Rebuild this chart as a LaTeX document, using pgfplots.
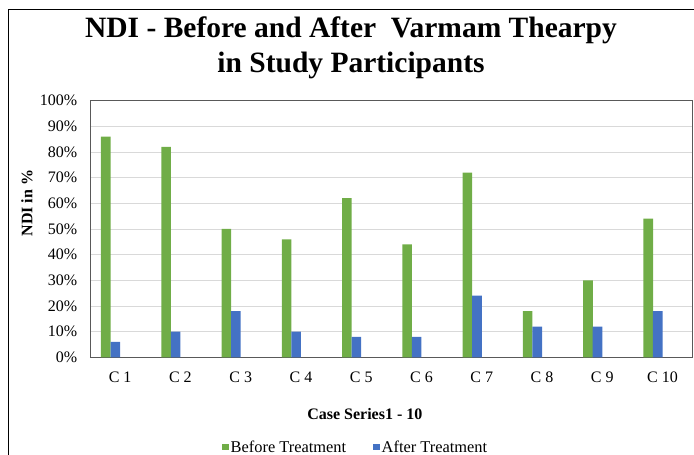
\documentclass[border=0pt]{standalone}
\usepackage{fontspec}
\setmainfont{Liberation Serif}
\usepackage{pgfplots}
\pgfplotsset{compat=1.18}
\definecolor{cgreen}{HTML}{70AD47}
\definecolor{cblue}{HTML}{4472C4}
\definecolor{cgrid}{HTML}{D9D9D9}
\definecolor{cframe}{HTML}{595959}
\begin{document}
\begin{tikzpicture}[x=1pt,y=1pt]
\useasboundingbox (0,0) rectangle (694,455);
\draw[black, line width=1pt] (8,-5) -- (8,445) -- (700,445);
\node[font=\fontsize{29.5}{34}\selectfont\bfseries, anchor=base, inner sep=0pt] at (351,417) {NDI - Before and After\ \ Varmam Thearpy};
\node[font=\fontsize{29.5}{34}\selectfont\bfseries, anchor=base, inner sep=0pt] at (351,382) {in Study Participants};
\begin{axis}[
  at={(90pt,97.7pt)}, anchor=south west,
  scale only axis, width=602.7pt, height=256.6pt,
  font=\fontsize{16}{19}\selectfont,
  xmin=-0.5, xmax=9.5, ymin=0, ymax=100,
  ytick={0,10,...,100},
  yticklabels={0\%,10\%,20\%,30\%,40\%,50\%,60\%,70\%,80\%,90\%,100\%},
  xtick={0,...,9},
  xticklabels={C 1,C 2,C 3,C 4,C 5,C 6,C 7,C 8,C 9,C 10},
  major tick length=0pt,
  ymajorgrids, grid style={cgrid, line width=0.8pt},
  axis line style={cframe, line width=0.8pt},
  yticklabel style={inner sep=0pt, anchor=east, xshift=-12.7pt},
  xticklabel style={inner sep=0pt, anchor=base, yshift=-25.7pt},
  xlabel={\bfseries Case Series1 - 10},
  xlabel style={at={(rel axis cs:0.456,-0.2405)}, anchor=base, inner sep=0pt},
  ylabel={\bfseries NDI in \%},
  ylabel style={at={(rel axis cs:-0.1045,0.601)}, anchor=center, inner sep=0pt},
  legend columns=2,
  legend style={draw=none, fill=none, at={(rel axis cs:0.219,-0.3496)}, anchor=west,
    inner sep=0pt, font=\fontsize{16.4}{19}\selectfont,
    nodes={inner sep=2pt, anchor=west},
    /tikz/every even column/.append style={column sep=25pt}},
  legend image code/.code={\fill[#1,draw=none] (0pt,-3pt) rectangle (6.5pt,3.5pt);},
]
\addplot[ybar, bar width=0.159, bar shift=-0.238, fill=cgreen, draw=none]
  coordinates {(0,86) (1,82) (2,50) (3,46) (4,62) (5,44) (6,72) (7,18) (8,30) (9,54)};
\addlegendentry{Before Treatment}
\addplot[ybar, bar width=0.159, bar shift=-0.0795, fill=cblue, draw=none]
  coordinates {(0,6) (1,10) (2,18) (3,10) (4,8) (5,8) (6,24) (7,12) (8,12) (9,18)};
\addlegendentry{After Treatment}
\end{axis}
\end{tikzpicture}
\end{document}
